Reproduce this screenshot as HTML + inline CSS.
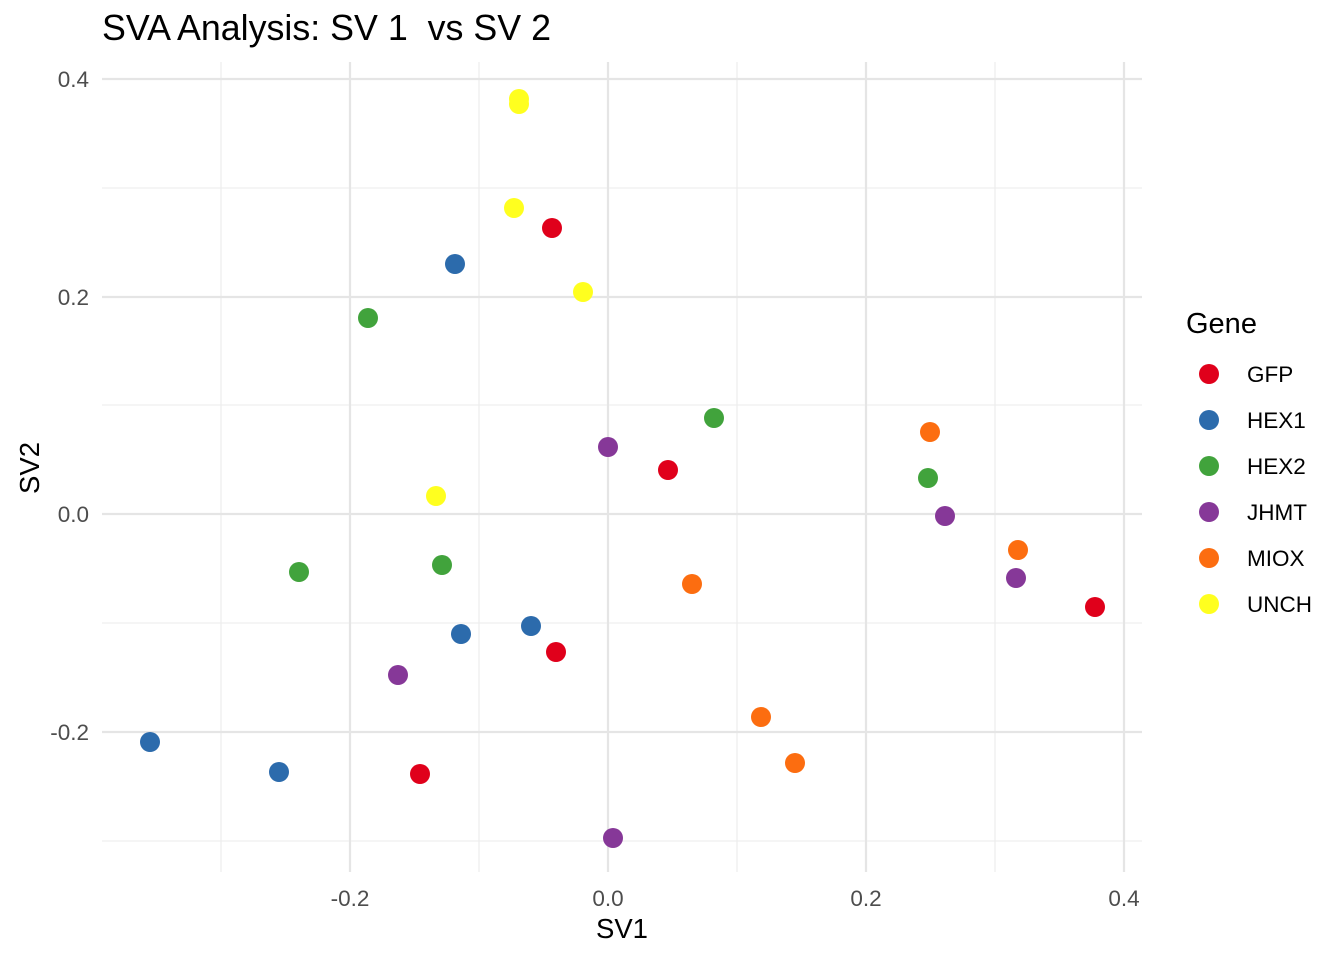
<!DOCTYPE html>
<html><head><meta charset="utf-8"><style>body{margin:0;background:#fff}</style></head><body>
<svg width="1344" height="960" xmlns="http://www.w3.org/2000/svg" font-family="Liberation Sans, Arial, sans-serif">
<rect width="1344" height="960" fill="#fff"/>
<g stroke="#ebebeb" stroke-width="1.1">
<line x1="221" y1="62" x2="221" y2="872"/><line x1="479" y1="62" x2="479" y2="872"/><line x1="737" y1="62" x2="737" y2="872"/><line x1="995" y1="62" x2="995" y2="872"/>
<line x1="102" y1="188" x2="1142" y2="188"/><line x1="102" y1="405" x2="1142" y2="405"/><line x1="102" y1="623" x2="1142" y2="623"/><line x1="102" y1="841" x2="1142" y2="841"/>
</g>
<g stroke="#e5e5e5" stroke-width="2.2">
<line x1="350" y1="62" x2="350" y2="872"/><line x1="608" y1="62" x2="608" y2="872"/><line x1="866" y1="62" x2="866" y2="872"/><line x1="1124" y1="62" x2="1124" y2="872"/>
<line x1="102" y1="79" x2="1142" y2="79"/><line x1="102" y1="297" x2="1142" y2="297"/><line x1="102" y1="514" x2="1142" y2="514"/><line x1="102" y1="732" x2="1142" y2="732"/>
</g>
<g fill="#4d4d4d" font-size="22.5" text-anchor="end">
<text x="89" y="87">0.4</text><text x="89" y="305">0.2</text><text x="89" y="522">0.0</text><text x="89" y="740">-0.2</text>
</g>
<g fill="#4d4d4d" font-size="22.5" text-anchor="middle">
<text x="350" y="906">-0.2</text><text x="608" y="906">0.0</text><text x="866" y="906">0.2</text><text x="1124" y="906">0.4</text>
</g>
<text x="622" y="938" font-size="27.5" text-anchor="middle">SV1</text>
<text transform="translate(39,468) rotate(-90)" font-size="27.5" text-anchor="middle">SV2</text>
<text x="102" y="40" font-size="35.8">SVA Analysis: SV 1 &#160;vs SV 2</text>
<g fill="#FFFF1F"><circle cx="519" cy="99" r="10"/><circle cx="519" cy="104" r="10"/><circle cx="514" cy="208" r="10"/><circle cx="583" cy="292" r="10"/><circle cx="436" cy="496" r="10"/></g>
<g fill="#E0001B"><circle cx="552" cy="228" r="10"/><circle cx="668" cy="470" r="10"/><circle cx="556" cy="652" r="10"/><circle cx="420" cy="774" r="10"/><circle cx="1095" cy="607" r="10"/></g>
<g fill="#2C6BAC"><circle cx="455" cy="264" r="10"/><circle cx="461" cy="634" r="10"/><circle cx="531" cy="626" r="10"/><circle cx="150" cy="742" r="10"/><circle cx="279" cy="772" r="10"/></g>
<g fill="#41A33C"><circle cx="368" cy="318" r="10"/><circle cx="714" cy="418" r="10"/><circle cx="928" cy="478" r="10"/><circle cx="299" cy="572" r="10"/><circle cx="442" cy="565" r="10"/></g>
<g fill="#863898"><circle cx="608" cy="447" r="10"/><circle cx="945" cy="516" r="10"/><circle cx="1016" cy="578" r="10"/><circle cx="398" cy="675" r="10"/><circle cx="613" cy="838" r="10"/></g>
<g fill="#FC6D10"><circle cx="930" cy="432" r="10"/><circle cx="1018" cy="550" r="10"/><circle cx="692" cy="584" r="10"/><circle cx="761" cy="717" r="10"/><circle cx="795" cy="763" r="10"/></g>
<text x="1186" y="333" font-size="29">Gene</text>
<g font-size="22.5">
<circle cx="1209" cy="374" r="10" fill="#E0001B"/><text x="1247" y="382">GFP</text>
<circle cx="1209" cy="420" r="10" fill="#2C6BAC"/><text x="1247" y="428">HEX1</text>
<circle cx="1209" cy="466" r="10" fill="#41A33C"/><text x="1247" y="474">HEX2</text>
<circle cx="1209" cy="512" r="10" fill="#863898"/><text x="1247" y="520">JHMT</text>
<circle cx="1209" cy="558" r="10" fill="#FC6D10"/><text x="1247" y="566">MIOX</text>
<circle cx="1209" cy="604" r="10" fill="#FFFF1F"/><text x="1247" y="612">UNCH</text>
</g>
</svg>
</body></html>
